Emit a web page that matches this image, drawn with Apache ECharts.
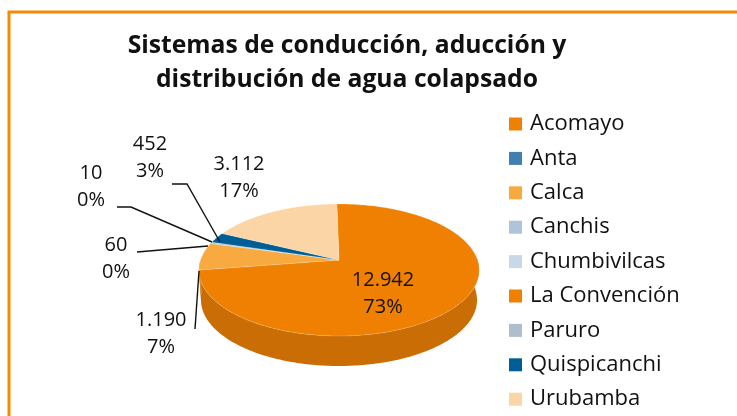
<!DOCTYPE html>
<html>
<head>
<meta charset="utf-8">
<style>html,body{margin:0;padding:0;background:#fff;}#main{width:737px;height:416px;}</style>
<script src="https://cdn.jsdelivr.net/npm/echarts@6/dist/echarts.min.js"></script>
</head>
<body>
<div id="main"></div>
<script>
// data
var categories = ['Acomayo','Anta','Calca','Canchis','Chumbivilcas','La Convención','Paruro','Quispicanchi','Urubamba'];
var values = [12942,0,1190,60,10,0,0,452,3112];
var percents = ['73%','','7%','0%','0%','','','3%','17%'];

// styles
var colors = ['#F08002','#3F80B0','#F8A940','#AEC3DC','#C9D8E9','#F08002','#B0BDCE','#005E97','#FCD5A6'];
var sideColors = ['#C96D04','#356C95','#D08E35','#92A4B9','#A9B5C4','#C96D04','#949FAD','#004F7F','#D4B38B'];
var FONT = '"Open Sans", "Noto Sans", sans-serif';

// label centre and leader line per category, null = no label
var labelPos = [
  {x:383,y:294},null,
  {x:161,y:334,line:[[195,329],[199,271]]},
  {x:116,y:259,line:[[137,252],[208,246]]},
  {x:91,y:187,line:[[117,207],[131,207],[212,242]]},
  null,null,
  {x:150,y:158,line:[[172,184],[187,184],[220,242]]},
  {x:239,y:178}
];

// pie geometry, a tilted disc seen in perspective
var CX = 339, CY = 260, A = 138.5, B = 64.5, K = 0.1515, DEPTH = 30, START = -1;
var total = values.reduce(function(a,b){return a+b;},0);

function pt(deg,down,shrink){
  var r = deg*Math.PI/180, X = Math.sin(r), Z = Math.cos(r), d = 1+K*Z;
  return [CX+A*X/d*(shrink||1), CY-B*Z/d+(down||0)];
}
function arc(from,to,down,shrink){
  var out = [], n = Math.max(2,Math.ceil(Math.abs(to-from))+1);
  for(var i=0;i<n;i++) out.push(pt(from+(to-from)*i/(n-1),down,shrink));
  return out;
}
function fmt(v){ return String(v).replace(/\B(?=(\d{3})+$)/g,'.'); }

function renderSlice(params,api){
  var i = params.seriesIndex, v = api.value(0);
  if(!v) return {type:'group',children:[]};
  var before = 0;
  for(var j=0;j<i;j++) before += values[j];
  var a0 = START+before/total*360, a1 = START+(before+v)/total*360;
  var kids = [{
    type:'polygon',z2:2,
    shape:{points:[[CX,CY]].concat(arc(a0,a1))},
    style:{fill:colors[i],stroke:'rgba(255,255,255,0.35)',lineWidth:0.5}
  }];
  // only the front of the rim shows
  var w0 = Math.max(a0,88), w1 = Math.min(a1,268);
  if(w1>w0){
    kids.unshift({
      type:'polygon',z2:1,
      shape:{points:arc(w0,w1).concat(arc(w1,w0,DEPTH,0.985))},
      style:{fill:sideColors[i]}
    });
  }
  var lab = labelPos[i];
  if(lab){
    kids.push({
      type:'text',z2:5,x:lab.x,y:lab.y,
      style:{text:fmt(v)+'\n'+percents[i],fontFamily:FONT,fontSize:20,lineHeight:27,fill:'#111',align:'center',verticalAlign:'middle'}
    });
    if(lab.line){
      kids.push({type:'polyline',z2:4,shape:{points:lab.line},style:{stroke:'#111',lineWidth:1.4,fill:null}});
    }
  }
  return {type:'group',children:kids};
}

var chart = echarts.init(document.getElementById('main'),null,{renderer:'canvas'});
chart.setOption({
  animation:false,
  backgroundColor:'#fff',
  title:{
    text:'Sistemas de conducción, aducción y\ndistribución de agua colapsado',
    left:342,top:24,textAlign:'center',
    textStyle:{fontFamily:FONT,fontSize:24.7,fontWeight:'bold',color:'#111',lineHeight:34}
  },
  legend:{
    orient:'vertical',left:504,top:106,height:330,
    itemWidth:13,itemHeight:13,itemGap:8.4,
    icon:'rect',
    data:categories,
    textStyle:{fontFamily:FONT,fontSize:22,color:'#111',padding:[0,0,0,3],lineHeight:26,height:26}
  },
  graphic:[{
    type:'polyline',silent:true,
    shape:{points:[[9,416],[9,12],[737,12]]},
    style:{stroke:'#F58A07',lineWidth:3,fill:null}
  }],
  series:categories.map(function(name,i){
    return {
      type:'custom',name:name,coordinateSystem:'none',
      itemStyle:{color:colors[i]},
      renderItem:renderSlice,
      data:[[values[i]]]
    };
  })
});
</script>
</body>
</html>
